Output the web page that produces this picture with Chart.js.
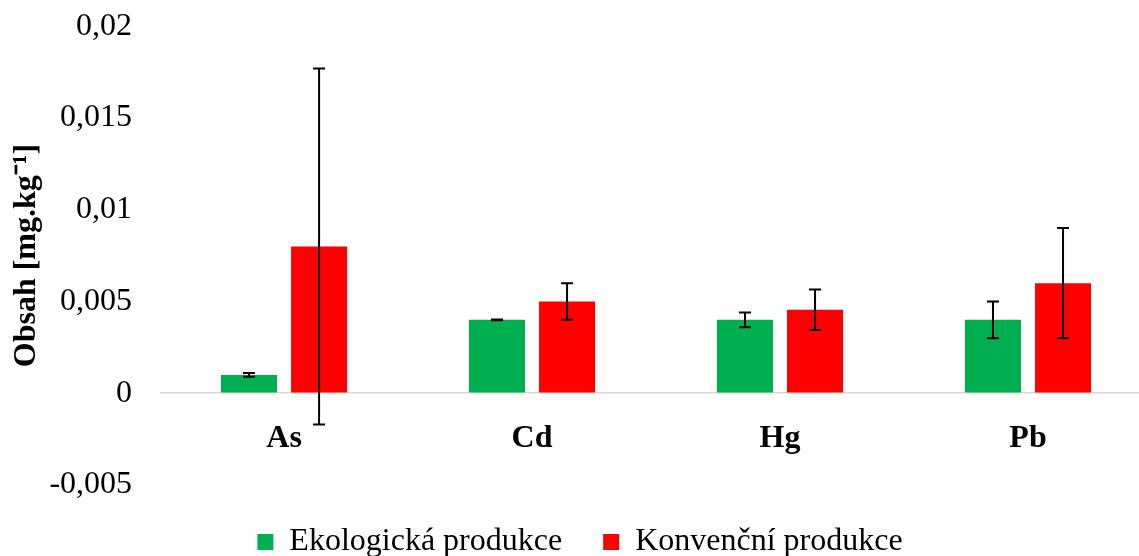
<!DOCTYPE html>
<html>
<head>
<meta charset="utf-8">
<script src="https://cdn.jsdelivr.net/npm/chart.js@4"></script>
<style>
  html, body { margin: 0; padding: 0; background: #fff; overflow: hidden; }
  #wrap { width: 1160px; height: 589px; margin-top: -21px; position: relative; }
</style>
</head>
<body>
<div id="wrap"><canvas id="chart"></canvas></div>
<script>
// data
var categories = ['As', 'Cd', 'Hg', 'Pb'];
var ekoValues = [0.001, 0.004, 0.004, 0.004];
var ekoErrors = [0.0001, 0.00002, 0.0004, 0.001];
var konvValues = [0.008, 0.005, 0.00455, 0.006];
var konvErrors = [0.0097, 0.001, 0.0011, 0.003];
var seriesNames = ['Ekologická produkce', 'Konvenční produkce'];
var yTicks = [-0.005, 0, 0.005, 0.01, 0.015, 0.02];

var serif = "'Liberation Serif', 'Times New Roman', serif";

// draws the error bars on top of the bars
var errorBars = {
  id: 'errorBars',
  afterDatasetsDraw(chart) {
    var ctx = chart.ctx;
    var y = chart.scales.y;
    ctx.save();
    ctx.strokeStyle = '#000';
    ctx.lineWidth = 2;
    chart.data.datasets.forEach(function (ds, i) {
      var meta = chart.getDatasetMeta(i);
      meta.data.forEach(function (bar, j) {
        var v = ds.data[j], e = ds.errors[j];
        var top = y.getPixelForValue(v + e);
        var bot = y.getPixelForValue(v - e);
        ctx.beginPath();
        ctx.moveTo(bar.x, top); ctx.lineTo(bar.x, bot);
        ctx.moveTo(bar.x - 6, top); ctx.lineTo(bar.x + 6, top);
        ctx.moveTo(bar.x - 6, bot); ctx.lineTo(bar.x + 6, bot);
        ctx.stroke();
      });
    });
    ctx.restore();
  }
};

new Chart(document.getElementById('chart'), {
  type: 'bar',
  data: {
    labels: categories,
    datasets: [
      { label: seriesNames[0], data: ekoValues, errors: ekoErrors, backgroundColor: '#00B050' },
      { label: seriesNames[1], data: konvValues, errors: konvErrors, backgroundColor: '#FF0000' }
    ]
  },
  options: {
    responsive: true,
    maintainAspectRatio: false,
    animation: false,
    categoryPercentage: 0.565,
    barPercentage: 0.8,
    layout: { padding: { top: 6, left: 8, right: 8, bottom: 0 } },
    plugins: {
      tooltip: { enabled: false },
      legend: {
        position: 'bottom',
        labels: {
          color: '#000',
          font: { family: serif, size: 32 },
          boxWidth: 16,
          boxHeight: 16,
          padding: 41
        }
      }
    },
    scales: {
      x: {
        position: { y: 0 },
        grid: { display: false },
        border: { display: false },
        ticks: { color: '#000', font: { family: serif, size: 32, weight: 'bold' }, padding: 18 }
      },
      y: {
        min: -0.005,
        max: 0.02,
        afterBuildTicks(axis) { axis.ticks = yTicks.map(function (v) { return { value: v }; }); },
        afterFit(axis) { axis.width -= 27; },
        grid: {
          drawTicks: false,
          lineWidth: 1.5,
          color(c) { return c.tick && c.tick.value === 0 ? '#d9d9d9' : 'rgba(0,0,0,0)'; }
        },
        border: { display: false },
        ticks: {
          color: '#000',
          font: { family: serif, size: 32 },
          padding: 28,
          callback(v) { return String(parseFloat(Number(v).toFixed(3))).replace('.', ','); }
        },
        title: {
          display: true,
          text: 'Obsah [mg.kg⁻¹]',
          color: '#000',
          font: { family: serif, size: 32, weight: 'bold' },
          padding: { top: 0, bottom: 2 }
        }
      }
    }
  },
  plugins: [errorBars]
});
</script>
</body>
</html>
